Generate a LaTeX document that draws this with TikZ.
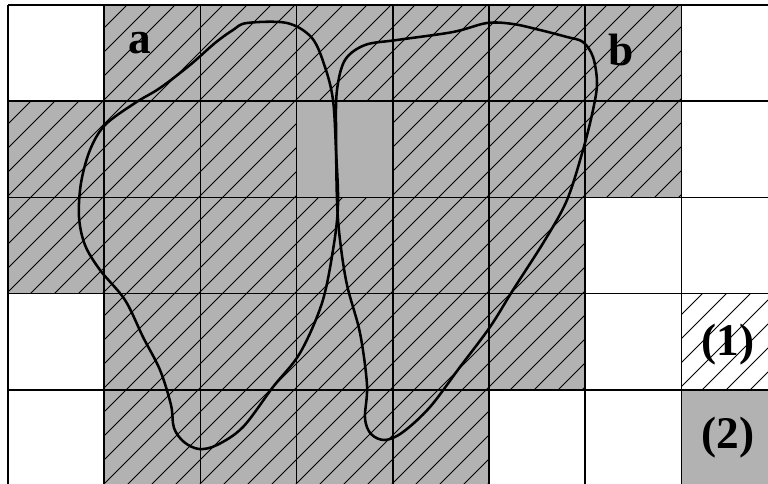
\documentclass[tikz,border=0pt]{standalone}
\usepackage{fontspec}
\setmainfont{Liberation Serif}
\usetikzlibrary{positioning}

\begin{document}
\begin{tikzpicture}[
    x=0.75pt, y=-0.75pt,
    graycell/.style={fill=black!30},
    hatchline/.style={line width=0.6pt},
    gridline/.style={line width=1.3pt},
    blob/.style={line width=1.9pt, line join=round},
    tag/.style={font=\fontsize{34}{34}\selectfont\bfseries, inner sep=0pt, anchor=base}
]
\useasboundingbox (0,0) rectangle (768,483);
\clip (0,0) rectangle (768,483);

% gray cells (col from/col to/row)
\foreach \ca/\cb/\r in {1/6/0, 0/6/1, 0/5/2, 1/5/3, 1/4/4, 7/7/4}
  \fill[graycell] (8+96.2*\ca, 5+96.2*\r) rectangle (8+96.2*\cb+96.2, 5+96.2*\r+96.2);

% hatching
\begin{scope}
  \clip \foreach \ca/\cb/\r in {1/6/0, 0/2/1, 4/6/1, 0/5/2, 1/5/3, 7/7/3, 1/4/4}
    {(8+96.2*\ca, 5+96.2*\r) rectangle (8+96.2*\cb+96.2, 5+96.2*\r+96.2)};
  \foreach \k in {0,...,52}
    \draw[hatchline] (12+24*\k-600, 600) -- (12+24*\k+10, -10);
\end{scope}

% grid
\foreach \i in {0,...,8}
  \draw[gridline] (8+96.2*\i, 5) -- (8+96.2*\i, 490);
\foreach \j in {0,...,5}
  \draw[gridline] (8, 5+96.2*\j) -- (780, 5+96.2*\j);

% outlines a and b
\draw[blob] plot[smooth cycle, tension=0.55] coordinates {
  (247,23) (287,23) (312,38) (325,67) (333,100) (336,150) (338,205) (333,250)
  (322,303) (300,353) (273,387) (243,427) (217,445) (199,449) (184,442) (174,428)
  (171,405) (160,370) (143,337) (125,300) (100,270) (85,245) (79,217) (81,183)
  (90,150) (105,125) (135,103) (160,88) (190,65) (215,43) (233,30)};
\draw[blob] plot[smooth cycle, tension=0.55] coordinates {
  (397,40) (453,32) (487,23) (513,24) (540,30) (567,37) (583,42) (593,57)
  (597,83) (593,110) (583,150) (567,200) (545,240) (513,290) (490,327) (460,367)
  (430,407) (403,432) (385,440) (371,434) (365,418) (367,385) (360,333) (347,285)
  (340,240) (337,200) (336,130) (337,90) (345,60) (365,45)};

% labels
\node[tag] (lbla) at (140,53) {a};
\node[tag] (lblb) at (621,65) {b};
\node[tag] (lbl1) at (728,355) {(1)};
\node[tag] (lbl2) at (728,448) {(2)};
\end{tikzpicture}
\end{document}
